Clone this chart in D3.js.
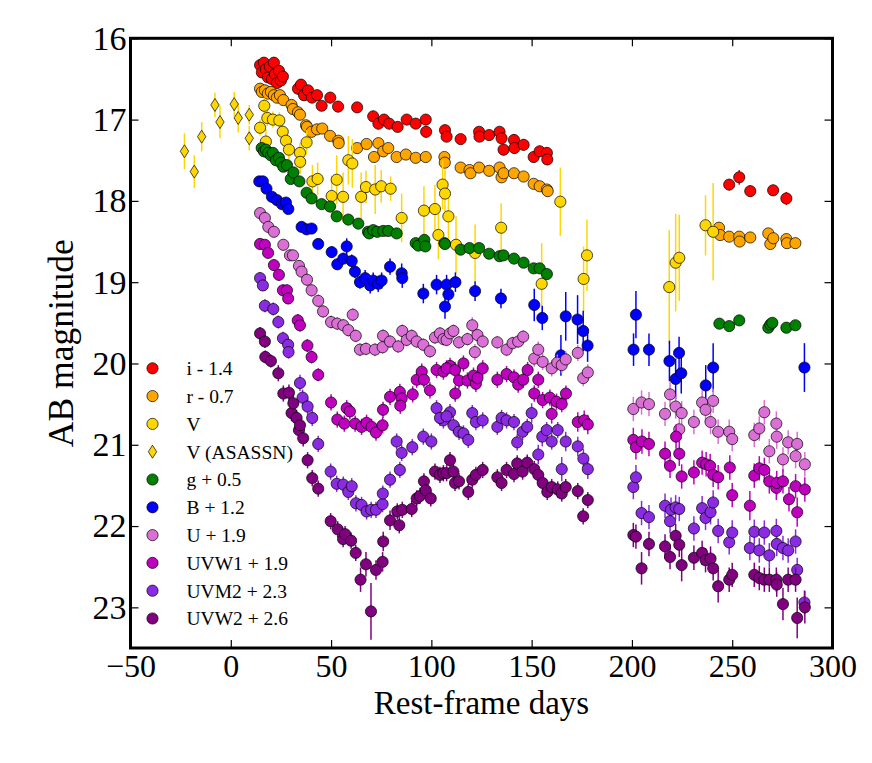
<!DOCTYPE html>
<html>
<head>
<meta charset="utf-8">
<script src="https://cdn.jsdelivr.net/npm/d3@7"></script>
<style>
  body { margin: 0; background: #fff; }
  text { font-family: "Liberation Serif", "DejaVu Serif", serif; }
</style>
</head>
<body>
<svg id="chart" width="872" height="763"></svg>
<script>
// each point: [rest-frame day, AB magnitude, error]
const iBand = [[14.6,16.33,.06],[15.5,16.42,.06],[16.5,16.3,.06],[17.5,16.38,.06],[18.5,16.48,.06],[19.5,16.35,.06],[20.5,16.5,.06],[21.5,16.3,.07],[22,16.44,.06],[23,16.55,.06],[24,16.4,.06],[25,16.52,.06],[26,16.47,.06],
  [33.5,16.62,.07],[35,16.57,.07],[36.5,16.7,.07],[38.5,16.64,.06],[40.5,16.73,.06],[43,16.7,.06],[45.3,16.83,.06],[49.6,16.73,.07],[53.5,16.84,.07],[63,16.85,.06],
  [71,16.96,.07],[73.6,17.05,.07],[76.4,17.0,.07],[79,17.05,.07],[83.2,17.09,.06],[87.7,17.0,.06],[92.2,17.05,.06],[97.2,17.0,.06],[97.4,17.15,.07],[106.8,17.13,.06],[107.6,17.21,.06],[114.6,17.24,.06],[123.8,17.15,.06],[124,17.21,.06],[128.8,17.19,.06],[134,17.15,.06],[135,17.23,.06],[136,17.37,.07],[141.2,17.25,.07],[141.4,17.35,.07],[146,17.31,.07],[151,17.46,.07],[154,17.39,.07],[157.6,17.41,.07],[157.8,17.49,.07],
  [248.5,17.8,.07],[253.5,17.71,.09],[259,17.88,.07],[270.4,17.87,.07],[277,17.97,.08]];

const rBand = [[14.6,16.62,.05],[15.5,16.66,.05],[17,16.64,.05],[18.5,16.68,.05],[20,16.66,.05],[21.5,16.7,.05],[23,16.73,.05],[24.5,16.7,.05],[26.2,16.76,.05],[30.3,16.82,.05],[31,16.87,.05],[33.5,16.91,.05],[34.5,16.94,.05],[37.5,17.07,.05],[38,17.09,.05],[40.3,17.15,.05],[43,17.12,.05],[45.6,17.11,.05],[49.5,17.2,.05],[53.6,17.26,.05],[53.8,17.29,.05],
  [63,17.35,.05],[67.7,17.3,.05],[71.4,17.46,.05],[73.6,17.29,.05],[76,17.39,.05],[78.5,17.35,.05],[82.7,17.46,.05],[87.3,17.43,.05],[92.2,17.47,.05],[97.2,17.46,.05],[106.5,17.46,.05],[106.7,17.53,.05],[114.6,17.59,.05],[119,17.62,.05],[119.5,17.66,.05],[123.8,17.59,.05],[128.8,17.63,.05],[134,17.59,.05],[135,17.71,.05],[136,17.66,.05],[141.2,17.66,.05],[146,17.7,.05],[151,17.79,.05],[154,17.82,.05],[157.6,17.86,.05],[158,17.88,.05],
  [243.4,18.33,.06],[244,18.42,.06],[248.5,18.44,.06],[253.5,18.44,.06],[253.7,18.5,.06],[259,18.45,.06],[268,18.4,.06],[269,18.53,.06],[270.5,18.46,.06],[277,18.47,.06],[277.3,18.52,.06],[281.5,18.52,.06]];

const vBand = [[14.6,17.1,.1],[16.7,16.83,.1],[17.5,17.27,.15],[18.2,16.98,.1],[21,17.0,.1],[24.2,17.01,.1],[25.9,17.15,.1],[27.5,17.26,.1],[29,17.37,.12],[34.5,17.41,.12],[34.6,17.52,.15],[37.8,17.28,.15],[40.7,17.76,.2],[43.3,17.73,.2],[50.3,17.94,.25],[52.8,17.74,.3],[56,17.95,.3],[58.6,17.5,.3],[60.6,17.54,.3],[65,17.95,.3],[67.4,17.83,.2],[72,17.86,.3],[75,17.82,.2],[79.7,17.85,.15],[85.2,18.21,.3],[96.3,18.12,.3],[101.8,18.1,.3],[103.5,18.42,.3],[105.6,17.8,.3],[106.8,17.91,.3],[108.5,18.19,.3],[112.3,18.54,.35],[121.8,18.64,.35],[134.8,18.33,.3],[155,19.02,.5],[164.3,18.01,.42],[175.9,18.96,.4],[177.6,18.67,.44],
  [218.6,19.06,.7],[221.8,18.76,.6],[223.6,18.7,.53],[236.7,18.3,.37],[240.5,18.38,.6]];

const vAsassn = [[-23.1,17.39,.22],[-18.2,17.64,.2],[-14.5,17.21,.18],[-7.9,16.82,.15],[-5.4,17.03,.2],[1.7,16.81,.15],[3.7,16.98,.18],[9.2,16.94,.12],[9.2,17.23,.15]];

const gBand = [[15.4,17.35,.05],[16.5,17.39,.05],[17.5,17.37,.05],[18.7,17.41,.05],[20,17.44,.05],[21,17.41,.05],[22.5,17.5,.05],[24,17.47,.05],[25,17.53,.05],[26.2,17.58,.05],[28,17.56,.05],[29.9,17.73,.05],[31.2,17.65,.05],[34.2,17.76,.05],[37.8,17.9,.05],[40.3,17.97,.05],[45.3,18.04,.05],[49.5,18.07,.05],[52.8,18.19,.05],[58.6,18.23,.05],[63.6,18.28,.05],
  [68.4,18.38,.05],[69,18.4,.05],[71,18.36,.05],[73,18.38,.05],[76,18.37,.05],[78.5,18.37,.05],[82.7,18.4,.05],[92.2,18.52,.05],[93.5,18.55,.05],[96.5,18.48,.05],[97,18.56,.05],[106.5,18.52,.05],[106.8,18.53,.05],[114.6,18.6,.05],[119,18.58,.05],[123.8,18.58,.05],[128.8,18.65,.05],[134,18.68,.05],[136,18.67,.05],[141.2,18.71,.05],[146,18.76,.05],[151,18.83,.05],[154,18.83,.05],[157.6,18.9,.05],
  [243.6,19.51,.05],[248.5,19.54,.05],[253.5,19.47,.05],[268,19.56,.05],[269,19.52,.05],[270,19.5,.05],[277,19.56,.05],[281.5,19.53,.05]];

const bBand = [[14.2,17.76,.05],[16,17.76,.05],[17.8,17.85,.05],[20.5,17.95,.05],[23,17.99,.05],[25.5,18.04,.05],[27.5,18.02,.05],[28.7,18.1,.05],[35.3,18.32,.06],[37.8,18.35,.06],[40.3,18.34,.06],[43.6,18.53,.06],[50.3,18.63,.07],[53.1,18.78,.07],[56.1,18.71,.07],[57.8,18.56,.1],[60.3,18.74,.08],[61.9,18.87,.08],[64.4,19.0,.08],[67,18.95,.1],[69.5,19.04,.1],[71,18.98,.1],[73.5,19.02,.1],[75.2,18.98,.1],[79.4,18.81,.1],[85.2,18.89,.12],[85.5,18.95,.12],[96,19.14,.12],[102.6,19.03,.12],[106.8,19.3,.15],[107.6,19.03,.12],[108.5,19.15,.12],[112,19.0,.12],[121.8,19.11,.12],[134.7,19.2,.12],[151.3,19.28,.2],[155.3,19.44,.15],[164.6,19.9,.25],[167,19.42,.3],[172.9,19.46,.3],[175.7,19.6,.25],[177.9,19.78,.2],
  [200.8,19.83,.2],[202,19.4,.29],[208.5,19.83,.2],[218.7,19.97,.25],[221.8,20.19,.25],[223.5,19.87,.2],[224.6,20.12,.25],[236.8,20.27,.25],[240.5,20.05,.3],[286,20.05,.3]];

const uBand = [[14.6,18.15,.06],[17,18.21,.06],[18.7,18.32,.06],[21.5,18.38,.06],[26.2,18.54,.07],[29.5,18.67,.07],[31,18.67,.07],[34,18.8,.07],[35.3,18.87,.07],[38,18.97,.08],[40.3,19.1,.08],[43.6,19.23,.08],[46,19.36,.08],[50,19.49,.08],[53.1,19.51,.08],[56.1,19.53,.08],[58.6,19.59,.08],[60.8,19.4,.08],[62.3,19.66,.08],[64.4,19.83,.08],[67.4,19.82,.08],[71.9,19.83,.08],[75.7,19.8,.08],[75.9,19.66,.08],[79.4,19.73,.08],[83.5,19.79,.08],[85.5,19.6,.08],[87.7,19.71,.08],[90.2,19.66,.08],[92.7,19.73,.08],[96,19.77,.08],[99.3,19.85,.08],[101.8,19.68,.08],[104.3,19.63,.08],[106,19.7,.08],[107.6,19.71,.08],[109.3,19.63,.08],[111,19.6,.08],[113.8,19.74,.08],[118,19.7,.08],[120.4,19.53,.1],[121.7,19.86,.1],[123,19.65,.08],[125.6,19.73,.08],[132.9,19.74,.08],[137.5,19.83,.08],[140.5,19.75,.08],[143.3,19.73,.08],[145.8,19.67,.08],[151.3,19.94,.1],[153.3,19.83,.1],[155.5,19.98,.1],[160,20.06,.1],[162.8,19.99,.1],[165,20.02,.1],[167,19.95,.1],[173,19.87,.1],[175.7,20.18,.1],[178,20.11,.1],
  [200.7,20.56,.15],[204.8,20.48,.15],[208.5,20.5,.15],[216.5,20.62,.15],[219,20.38,.15],[221.8,20.53,.15],[223.6,20.81,.15],[224.8,20.61,.15],[230.9,20.72,.15],[235,20.48,.15],[236.7,20.57,.15],[240.5,20.46,.15],[239.2,20.72,.15],[243,20.84,.15],[248.5,20.84,.15],[250,20.93,.15],[261,20.88,.15],[263.5,20.8,.15],[266,20.6,.15],[268.5,21.08,.15],[272,20.74,.15],[272.2,20.9,.15],[275.3,21.18,.15],[277.9,20.97,.15],[281.6,21.14,.15],[282.4,20.99,.15],[286.2,21.24,.15]];

const uvw1Band = [[14.6,18.53,.06],[17,18.54,.06],[18.6,18.64,.06],[21.5,18.79,.07],[24,18.91,.07],[26,19.1,.07],[28,19.1,.07],[28.6,19.2,.07],[33.4,19.47,.08],[34.5,19.53,.08],[38.2,19.78,.08],[40.3,19.92,.08],[43.6,20.14,.08],[50,20.48,.1],[53.1,20.69,.1],[56.6,20.74,.1],[57.8,20.55,.1],[59.4,20.59,.1],[62,20.74,.1],[65.2,20.78,.1],[67.7,20.73,.1],[70.2,20.78,.1],[72.4,20.85,.1],[75.7,20.76,.1],[75.9,20.57,.1],[79.4,20.41,.1],[84.3,20.35,.1],[85.2,20.43,.1],[84.5,20.52,.1],[90.7,20.38,.1],[92.7,20.2,.1],[95.2,20.1,.1],[96.3,20.2,.1],[99.3,20.33,.1],[102.6,20.08,.1],[106,20.1,.1],[109.3,20.03,.1],[107.6,20.06,.1],[111.8,20.08,.1],[111.9,20.37,.1],[113.8,20.21,.1],[116,20.0,.1],[118,20.21,.1],[121,20.15,.1],[122.2,20.25,.1],[123,20.18,.1],[125.6,20.06,.1],[132.9,20.2,.1],[137.5,20.13,.1],[141.2,20.17,.1],[143.3,20.26,.1],[145.8,20.2,.1],[148,20.08,.1],[151.3,20.37,.1],[153.3,20.2,.1],[155.5,20.45,.1],[159.1,20.42,.1],[160,20.62,.12],[162.4,20.47,.1],[165,20.5,.1],[167.1,20.37,.1],[173,20.72,.12],[176.2,20.7,.12],[178,20.75,.12],
  [200.7,20.94,.15],[202,21.03,.15],[205,20.96,.15],[208.5,20.99,.15],[216.5,21.11,.15],[219,21.26,.15],[222,20.9,.15],[223.6,21.11,.15],[224.8,21.39,.15],[230.9,21.34,.15],[235,21.22,.15],[237,21.24,.15],[239,21.26,.15],[240.5,21.37,.15],[243,21.4,.15],[248.8,21.28,.15],[250,21.62,.15],[258.8,21.75,.18],[261,21.38,.15],[263.5,21.29,.15],[266,21.31,.15],[268.5,21.45,.15],[272,21.53,.15],[272.2,21.47,.15],[275.3,21.45,.15],[278.3,21.67,.15],[281.6,21.51,.15],[282.4,21.83,.18],[286.2,21.55,.15]];

const uvm2Band = [[14.6,18.95,.07],[16,19.04,.07],[17,19.29,.08],[21.2,19.33,.08],[23.7,19.49,.08],[26,19.69,.08],[28.6,19.77,.08],[28.8,19.86,.08],[34.5,20.24,.1],[35.8,20.42,.1],[38.3,20.53,.1],[40.6,20.67,.1],[43.6,20.99,.1],[49.8,21.33,.1],[52.8,21.48,.1],[56.1,21.49,.1],[58.6,21.58,.1],[60.3,21.51,.1],[62.4,21.72,.1],[65.2,21.74,.1],[67.7,21.82,.1],[70,21.8,.1],[72.4,21.8,.1],[75.7,21.73,.1],[75.8,21.6,.1],[79.4,21.43,.1],[82.7,20.96,.1],[84.3,21.31,.1],[85.2,21.1,.1],[90.5,21.03,.1],[96,20.9,.1],[100,20.96,.1],[102.6,20.55,.1],[106,20.7,.1],[109.3,20.6,.1],[104.3,20.67,.1],[107.6,20.65,.1],[111,20.76,.1],[113.8,20.84,.1],[116,20.86,.1],[118.4,20.94,.1],[120.4,20.61,.1],[122.2,20.72,.1],[125.6,20.7,.1],[132.9,20.78,.1],[135,20.67,.1],[137.5,20.7,.1],[141.2,20.72,.1],[142.8,20.97,.1],[145.5,20.84,.1],[147.8,20.78,.1],[150,20.61,.12],[153.3,21.12,.12],[155.3,20.9,.12],[157.5,20.82,.1],[160,20.96,.1],[163,20.82,.1],[165,21.3,.15],[167,20.96,.12],[173,21.02,.12],[175.8,21.17,.12],[178,21.3,.12],
  [200.7,21.52,.15],[202,21.4,.15],[204.8,21.84,.15],[208.5,21.89,.15],[216.5,21.75,.15],[219,21.94,.15],[219.5,21.8,.15],[221.8,21.77,.15],[223.6,21.79,.15],[230.9,22.03,.15],[235,21.78,.15],[236.7,21.9,.15],[239.2,21.83,.15],[240.5,21.71,.15],[243,22.06,.15],[248.5,22.2,.15],[250,22.08,.15],[258.8,22.27,.15],[261,22.07,.15],[263.5,22.3,.15],[266,22.08,.15],[268.5,22.36,.15],[272,22.06,.15],[272.2,22.22,.15],[275.3,22.27,.15],[277.9,22.3,.15],[281.6,22.19,.15],[282.4,22.54,.15],[286,22.94,.15]];

const uvw2Band = [[14.6,19.63,.08],[17,19.73,.08],[17.2,19.92,.08],[20,19.97,.08],[23.7,20.12,.1],[26.2,20.37,.1],[29,20.36,.1],[30.3,20.61,.1],[31.2,20.49,.1],[32.8,20.67,.1],[34,20.82,.1],[34.5,20.76,.1],[36.1,20.92,.1],[38.3,21.19,.1],[40.6,21.41,.1],[43.6,21.54,.1],[49.8,21.94,.1],[53.3,22.04,.1],[56,22.16,.1],[57,22.1,.1],[60,22.18,.1],[62.3,22.33,.1],[64.7,22.66,.15],[67.4,22.47,.15],[69.9,23.05,.35],[72.4,22.54,.12],[75.7,22.44,.12],[76,22.19,.12],[79.4,21.93,.12],[83,21.82,.1],[84,21.99,.1],[85.5,21.8,.1],[90.2,21.79,.1],[92.7,21.66,.1],[94.3,21.63,.1],[96.3,21.45,.1],[97.2,21.56,.1],[99.7,21.66,.1],[101.8,21.33,.1],[104.3,21.37,.1],[106,21.35,.1],[107.6,21.35,.1],[109.3,21.19,.1],[111,21.33,.1],[111.8,21.47,.1],[113.8,21.45,.1],[118.4,21.58,.1],[120.4,21.43,.1],[122.2,21.37,.1],[125.6,21.31,.1],[132.9,21.4,.1],[135,21.47,.1],[137.5,21.31,.1],[141.2,21.36,.1],[142.8,21.23,.1],[145.5,21.33,.1],[147.8,21.22,.1],[151.3,21.3,.1],[153.3,21.37,.1],[155.5,21.47,.1],[157.8,21.58,.1],[160,21.52,.1],[163,21.55,.1],[165,21.6,.1],[167,21.52,.1],[173,21.57,.1],[175.7,21.88,.1],[178,21.68,.1],
  [200.7,22.11,.15],[202,22.13,.15],[204.8,22.52,.2],[208.5,22.22,.15],[216.5,22.25,.15],[219,22.38,.15],[221.8,22.12,.15],[223.6,22.23,.15],[224.8,22.48,.2],[230.9,22.39,.15],[235,22.33,.15],[236.7,22.42,.15],[239.2,22.4,.15],[240.5,22.52,.15],[243,22.74,.2],[248.5,22.66,.15],[250,22.6,.15],[261,22.6,.15],[263.5,22.64,.15],[266,22.66,.15],[268.5,22.66,.15],[272,22.66,.15],[272.2,22.72,.15],[275.3,22.96,.2],[277.9,22.66,.15],[281.6,22.66,.15],[282.4,23.13,.25],[286.2,23.0,.2]];

const xTicks = [-50, 0, 50, 100, 150, 200, 250, 300];
const yTicks = [16, 17, 18, 19, 20, 21, 22, 23];

const series = [
  {label: 'i - 1.4', data: iBand, color: '#ff0000'},
  {label: 'r - 0.7', data: rBand, color: '#ffa500'},
  {label: 'V', data: vBand, color: '#ffd700'},
  {label: 'V (ASASSN)', data: vAsassn, color: '#ffd700', diamond: true},
  {label: 'g + 0.5', data: gBand, color: '#008000'},
  {label: 'B + 1.2', data: bBand, color: '#0000ff'},
  {label: 'U + 1.9', data: uBand, color: '#da70d6'},
  {label: 'UVW1 + 1.9', data: uvw1Band, color: '#bf00bf'},
  {label: 'UVM2 + 2.3', data: uvm2Band, color: '#8a2be2'},
  {label: 'UVW2 + 2.6', data: uvw2Band, color: '#800080'}
];

const pLeft = 130.5, pRight = 832.5, pTop = 38.3, pBottom = 648;
const svg = d3.select('#chart');
svg.append('rect').attr('width', 872).attr('height', 763).attr('fill', '#fff');

const x = d3.scaleLinear().domain([-50, 300]).range([pLeft, pRight]);
const y = d3.scaleLinear().domain([16, 23.5]).range([pTop, pBottom]);

const diamondPath = 'M0,-6.5L4.2,0L0,6.5L-4.2,0Z';

const plot = svg.append('g');
series.forEach(s => {
  const g = plot.append('g');
  g.selectAll('line').data(s.data).enter().append('line')
    .attr('x1', d => x(d[0])).attr('x2', d => x(d[0]))
    .attr('y1', d => y(d[1] - d[2])).attr('y2', d => y(d[1] + d[2]))
    .attr('stroke', s.color).attr('stroke-width', 1.5);
  if (s.diamond) {
    g.selectAll('path').data(s.data).enter().append('path')
      .attr('d', diamondPath)
      .attr('transform', d => `translate(${x(d[0])},${y(d[1])})`)
      .attr('fill', s.color).attr('stroke', '#000').attr('stroke-width', 0.7);
  } else {
    g.selectAll('circle').data(s.data).enter().append('circle')
      .attr('cx', d => x(d[0])).attr('cy', d => y(d[1])).attr('r', 5.6)
      .attr('fill', s.color).attr('stroke', '#000').attr('stroke-width', 0.7);
  }
});

// axes, ticks pointing inward on all four sides
const fs = '32px';
const xb = svg.append('g').attr('transform', `translate(0,${pBottom})`)
  .call(d3.axisBottom(x).tickValues(xTicks).tickSizeInner(-8).tickSizeOuter(0).tickPadding(6)
    .tickFormat(d => d < 0 ? '\u2212' + Math.abs(d) : d));
const xt = svg.append('g').attr('transform', `translate(0,${pTop})`)
  .call(d3.axisTop(x).tickValues(xTicks).tickSizeInner(-8).tickSizeOuter(0).tickFormat(''));
const yl = svg.append('g').attr('transform', `translate(${pLeft},0)`)
  .call(d3.axisLeft(y).tickValues(yTicks).tickSizeInner(-8).tickSizeOuter(0).tickPadding(4));
const yr = svg.append('g').attr('transform', `translate(${pRight},0)`)
  .call(d3.axisRight(y).tickValues(yTicks).tickSizeInner(-8).tickSizeOuter(0).tickFormat(''));
[xb, xt, yl, yr].forEach(a => {
  a.select('.domain').remove();
  a.selectAll('.tick line').attr('stroke', '#000').attr('stroke-width', 1.2);
  a.selectAll('.tick text').attr('fill', '#000').style('font-size', fs)
    .style('font-family', '"Liberation Serif", "DejaVu Serif", serif');
});
yl.selectAll('.tick text').style('font-size', '34px');

svg.append('rect').attr('x', pLeft).attr('y', pTop)
  .attr('width', pRight - pLeft).attr('height', pBottom - pTop)
  .attr('fill', 'none').attr('stroke', '#000').attr('stroke-width', 3);

svg.append('text').attr('x', (pLeft + pRight) / 2).attr('y', 714)
  .attr('text-anchor', 'middle').style('font-size', '33px').text('Rest-frame days');
svg.append('text').attr('transform', `translate(73,${(pTop + pBottom) / 2}) rotate(-90)`)
  .attr('text-anchor', 'middle').style('font-size', '35.5px').text('AB magnitude');

// legend
const leg = svg.append('g').attr('transform', 'translate(152.5,368.3)');
series.forEach((s, i) => {
  const row = leg.append('g').attr('transform', `translate(0,${i * 27.8})`);
  if (s.diamond) {
    row.append('path').attr('d', diamondPath).attr('fill', s.color)
      .attr('stroke', '#000').attr('stroke-width', 0.7);
  } else {
    row.append('circle').attr('r', 5.6).attr('fill', s.color)
      .attr('stroke', '#000').attr('stroke-width', 0.7);
  }
  row.append('text').attr('x', 34).attr('dy', '0.35em')
    .style('font-size', '19.5px').text(s.label);
});
</script>
</body>
</html>
